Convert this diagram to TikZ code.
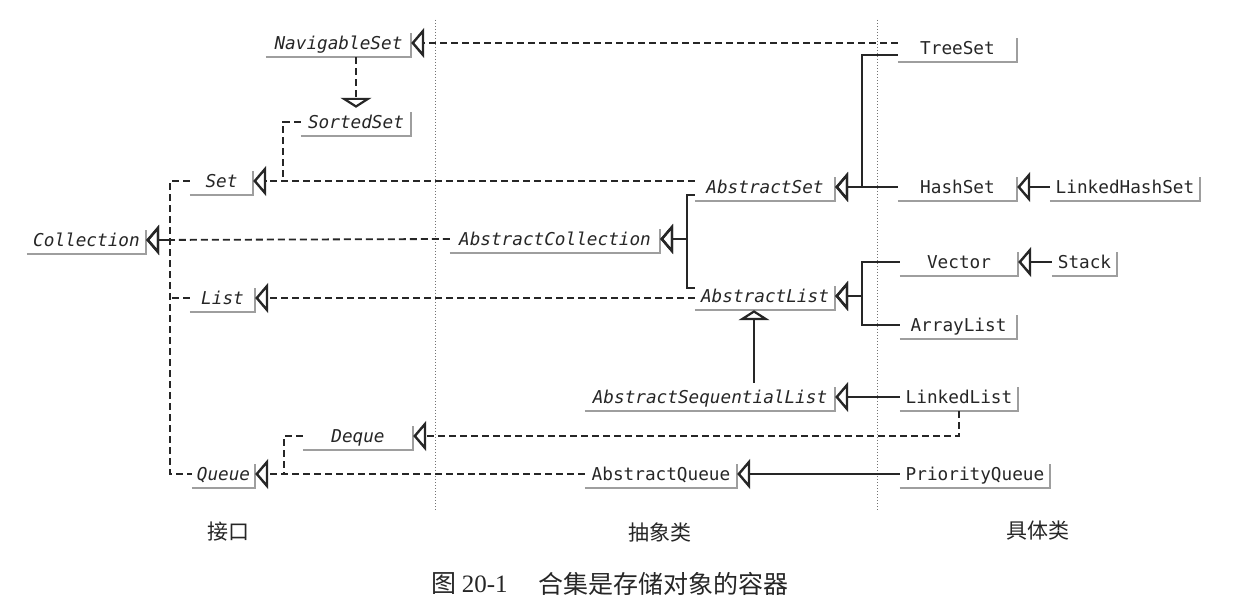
\documentclass[tikz,border=0pt]{standalone}
\usepackage{fontspec}
\newfontfamily\codefont{DejaVu Sans Mono}[ItalicFont={DejaVu Sans Mono Oblique}]
\newfontfamily\cjkfont{Noto Sans CJK SC}
\newfontfamily\numfont{Liberation Serif}
\usetikzlibrary{arrows.meta}
\begin{document}
\begin{tikzpicture}[x=1pt,y=-1pt,
  cls/.style={font=\codefont\fontsize{17.7}{20}\selectfont, text=black!85, inner sep=0pt,
    minimum height=28pt, text height=13pt, text depth=0pt, anchor=center},
  iface/.style={cls, font=\codefont\itshape\fontsize{17.7}{20}\selectfont},
  dashline/.style={line width=1.8pt, dash pattern=on 7pt off 4pt, draw=black!85},
  solidline/.style={line width=1.8pt, draw=black!85},
  inh/.style={-{Triangle[open,length=13pt,width=30pt,line width=2.4pt]}},
  inhv/.style={-{Triangle[open,length=10pt,width=31pt,line width=2.2pt]}},
  shadowline/.style={draw=black!38, line width=1.8pt},
  divider/.style={draw=black!55, line width=1pt, dash pattern=on 1pt off 2pt},
  cjklab/.style={font=\cjkfont\fontsize{21}{24}\selectfont, text=black!85, inner sep=0pt},
  caplab/.style={font=\cjkfont\fontsize{25}{28}\selectfont, text=black!85, inner sep=0pt, anchor=west}
]
\useasboundingbox (0,0) rectangle (1240,609);
\fill[white] (0,0) rectangle (1240,609);

% dividers
\draw[divider] (435,20) -- (435,510);
\draw[divider] (877,20) -- (877,510);

% interfaces
\node[iface, minimum width=145pt] (NavigableSet) at (338.5,43) {NavigableSet};
\node[iface, minimum width=110pt] (SortedSet) at (356,122) {SortedSet};
\node[iface, minimum width=63pt] (Set) at (221.5,181) {Set};
\node[iface, minimum width=119pt] (Collection) at (86.5,240) {Collection};
\node[iface, minimum width=65pt] (List) at (222.5,298) {List};
\node[iface, minimum width=110pt] (Deque) at (358,436) {Deque};
\node[iface, minimum width=63pt] (Queue) at (223.5,474) {Queue};
% abstract classes
\node[iface, minimum width=140pt] (AbstractSet) at (765,187) {AbstractSet};
\node[iface, minimum width=210pt] (AbstractCollection) at (555,239) {AbstractCollection};
\node[iface, minimum width=140pt] (AbstractList) at (765,296) {AbstractList};
\node[iface, minimum width=250pt] (AbstractSequentialList) at (710,397) {AbstractSequentialList};
\node[cls, minimum width=152pt] (AbstractQueue) at (661,474) {AbstractQueue};
% concrete classes
\node[cls, minimum width=119pt] (TreeSet) at (957.5,48) {TreeSet};
\node[cls, minimum width=119pt] (HashSet) at (957.5,187) {HashSet};
\node[cls, minimum width=150pt] (LinkedHashSet) at (1125,187) {LinkedHashSet};
\node[cls, minimum width=118pt] (Vector) at (959,262) {Vector};
\node[cls, minimum width=65pt] (Stack) at (1084.5,262) {Stack};
\node[cls, minimum width=117pt] (ArrayList) at (958.5,325) {ArrayList};
\node[cls, minimum width=118pt] (LinkedList) at (959,397) {LinkedList};
\node[cls, minimum width=150pt] (PriorityQueue) at (975,474) {PriorityQueue};

% shadow frames
\foreach \n in {NavigableSet,SortedSet,Set,Collection,List,Deque,Queue,AbstractSet,
  AbstractCollection,AbstractList,AbstractSequentialList,AbstractQueue,TreeSet,HashSet,
  LinkedHashSet,Vector,Stack,ArrayList,LinkedList,PriorityQueue}
  \draw[shadowline] (\n.south west) -- (\n.south east) -- ++(0,-24);

% junctions
\coordinate (jc) at (170,0);
\coordinate (jss) at (283,0);
\coordinate (jq) at (284,0);
\coordinate (jac) at (687,0);
\coordinate (jset) at (862,0);
\coordinate (xasl) at (754,0);

% interface hierarchy
\draw[dashline,inhv] (NavigableSet.south -| SortedSet.north) -- (SortedSet.north);
\draw[dashline] (SortedSet.west) -| (jss |- Set.east);
\draw[dashline] (Set.west) -| (jc |- Queue.west) -- (Queue.west);
\draw[dashline] (List.west) -- (jc |- List.west);
\draw[dashline,inh] (jc |- Collection.east) -- (Collection.east);
\draw[dashline] (Deque.west) -| (jq |- Queue.east);

% abstract -> interface
\draw[dashline,inh] (TreeSet.west |- NavigableSet.east) -- (NavigableSet.east);
\draw[dashline,inh] (AbstractSet.west |- Set.east) -- (Set.east);
\draw[dashline,inh] (AbstractCollection.west) -- (Collection.east);
\draw[dashline,inh] (AbstractList.west |- List.east) -- (List.east);
\draw[dashline,inh] (LinkedList.south) |- (Deque.east);
\draw[dashline,inh] (AbstractQueue.west) -- (Queue.east);

% class hierarchy
\draw[solidline,inh] ([yshift=-8pt]AbstractSet.west) -| (jac |- AbstractCollection.east) -- (AbstractCollection.east);
\draw[solidline,inh] ([yshift=8pt]AbstractList.west) -| (jac |- AbstractCollection.east) -- (AbstractCollection.east);
\draw[solidline,inh] ([yshift=-7pt]TreeSet.west) -| (jset |- AbstractSet.east) -- (AbstractSet.east);
\draw[solidline,inh] (HashSet.west) -- (AbstractSet.east);
\draw[solidline,inh] (LinkedHashSet.west) -- (HashSet.east);
\draw[solidline,inh] (Vector.west) -| (jset |- AbstractList.east) -- (AbstractList.east);
\draw[solidline,inh] (ArrayList.west) -| (jset |- AbstractList.east) -- (AbstractList.east);
\draw[solidline,inh] (Stack.west) -- (Vector.east);
\draw[solidline,inhv] (AbstractSequentialList.north -| xasl) -- (AbstractList.south -| xasl);
\draw[solidline,inh] (LinkedList.west) -- (AbstractSequentialList.east);
\draw[solidline,inh] (PriorityQueue.west) -- (AbstractQueue.east);

% column labels
\node[cjklab] (lab1) at (228,532) {接口};
\node[cjklab] (lab2) at (660,532) {抽象类};
\node[cjklab] (lab3) at (1038,531) {具体类};
% caption
\node[caplab] (capnum) at (431,584) {图 {\numfont 20-1}};
\node[caplab] (captext) at (538,584) {合集是存储对象的容器};
\end{tikzpicture}
\end{document}
